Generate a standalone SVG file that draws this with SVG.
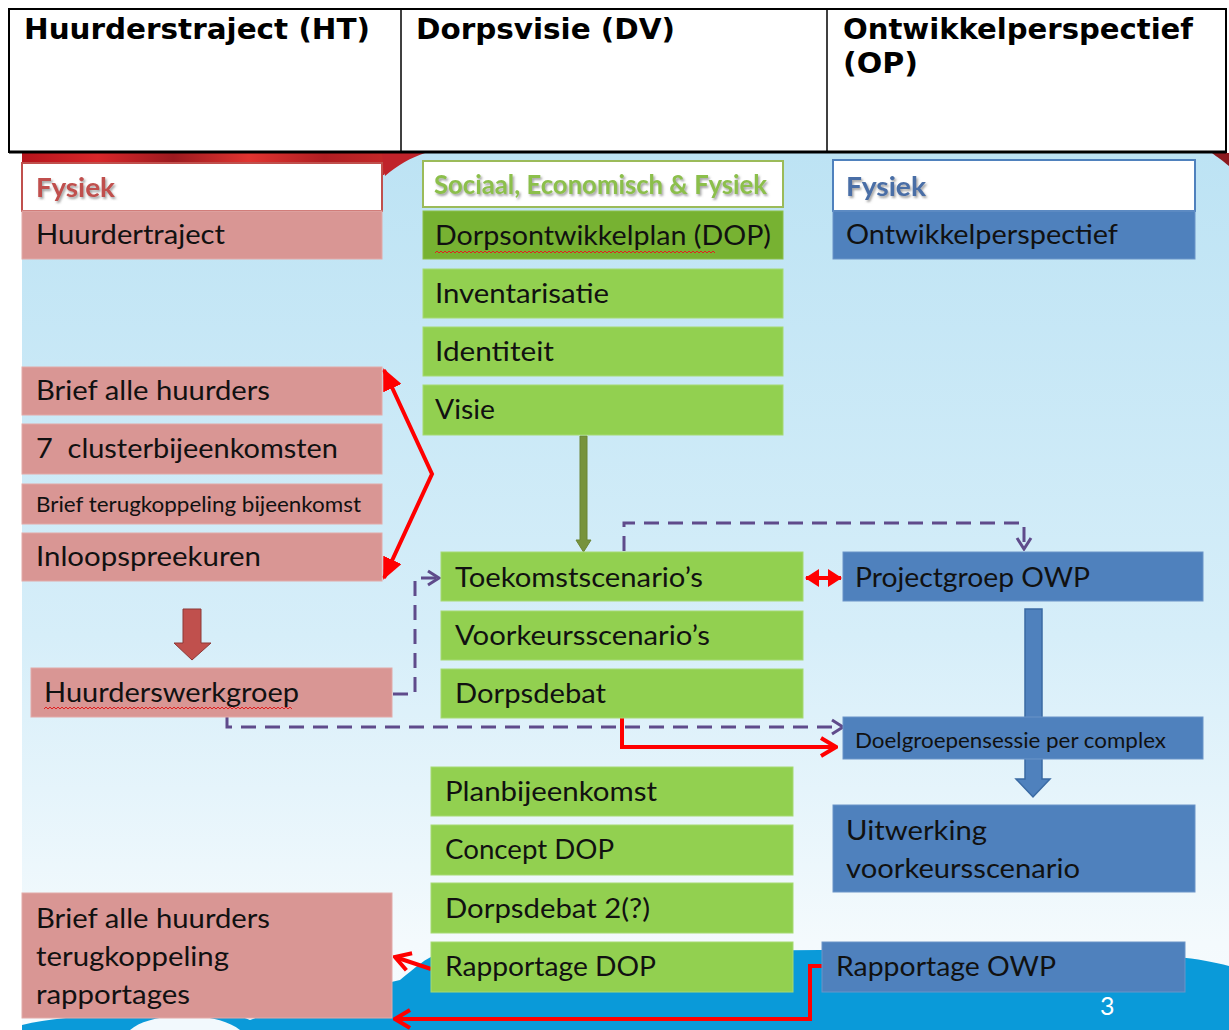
<svg xmlns="http://www.w3.org/2000/svg" width="1229" height="1030" viewBox="0 0 1229 1030">
<defs>
<linearGradient id="bg" x1="0" y1="0" x2="0" y2="1">
<stop offset="0" stop-color="#bde3f4"/>
<stop offset="0.55" stop-color="#d6eef9"/>
<stop offset="0.9" stop-color="#f4fafd"/>
<stop offset="1" stop-color="#f7fbfe"/>
</linearGradient>
<linearGradient id="tulip" x1="0" y1="0" x2="1" y2="0">
<stop offset="0" stop-color="#b5141c"/>
<stop offset="0.2" stop-color="#d8272a"/>
<stop offset="0.4" stop-color="#9c1a1f"/>
<stop offset="0.6" stop-color="#e03430"/>
<stop offset="0.8" stop-color="#b01e22"/>
<stop offset="1" stop-color="#c92a2a"/>
</linearGradient>
<filter id="sh" x="-10%" y="-20%" width="130%" height="160%">
<feDropShadow dx="1.5" dy="2" stdDeviation="1.2" flood-color="#555" flood-opacity="0.55"/>
</filter>
<marker id="pch" markerUnits="userSpaceOnUse" viewBox="0 0 16 20" markerWidth="16" markerHeight="20" refX="14" refY="10" orient="auto">
<path d="M3,3 L14,10 L3,17" fill="none" stroke="#5f4b8b" stroke-width="3"/>
</marker>
<marker id="rch" markerUnits="userSpaceOnUse" viewBox="0 0 20 24" markerWidth="20" markerHeight="24" refX="18" refY="12" orient="auto">
<path d="M3,3 L18,12 L3,21" fill="none" stroke="#ff0000" stroke-width="4"/>
</marker>
<marker id="rtri" markerUnits="userSpaceOnUse" viewBox="0 0 22 20" markerWidth="22" markerHeight="20" refX="20" refY="10" orient="auto-start-reverse">
<path d="M0,0 L22,10 L0,20 z" fill="#ff0000"/>
</marker>
<marker id="rsm" markerUnits="userSpaceOnUse" viewBox="0 0 14 18" markerWidth="14" markerHeight="18" refX="13" refY="9" orient="auto-start-reverse">
<path d="M0,0 L14,9 L0,18 z" fill="#ff0000"/>
</marker>
<style>
.hdr{font-family:"DejaVu Sans",Verdana,sans-serif;font-weight:bold;font-size:28px;fill:#000}
.t{font-family:Lato,"Open Sans",sans-serif;font-size:27px;fill:#111;white-space:pre}
.ts{font-family:Lato,"Open Sans",sans-serif;font-size:21px;fill:#111}
.pink{fill:#d99694;stroke:#e2aaa8;stroke-width:1}
.green{fill:#92d050;stroke:#a6da72;stroke-width:1}
.blue{fill:#4f81bd;stroke:#6b94c8;stroke-width:1}
.hb{font-family:Lato,"Open Sans",sans-serif;font-weight:bold;font-size:27px}
.pd{fill:none;stroke:#5f4b8b;stroke-width:3;stroke-dasharray:15 9}
.rl{fill:none;stroke:#ff0000;stroke-width:4}
.wavy{fill:none;stroke:#e02020;stroke-width:1}
</style>
</defs>

<rect x="0" y="0" width="1229" height="1030" fill="#ffffff"/>

<g id="background">
<rect x="22" y="153" width="1207" height="877" fill="url(#bg)"/>
<path d="M22,153 H400 C395,160 388,168 384,175 L22,165 Z" fill="url(#tulip)"/>
<path d="M382,153 H425 C410,158 398,165 385,176 Z" fill="#c0232a"/>
<path d="M1212,153 H1229 V166 C1222,160 1217,157 1212,153 Z" fill="#8c1a1f"/>
<path d="M22,1030 L22,1025 C60,1016 110,1014 140,1018 C180,1008 220,1008 250,1020 C300,1000 360,990 400,980 C415,968 425,958 440,953 L820,950 C900,948 1000,950 1100,952 C1160,954 1200,958 1229,966 L1229,1030 Z" fill="#0a9ad9"/>
<path d="M130,1030 C150,1012 215,1010 240,1030 Z" fill="#f2f9fd"/>
</g>

<g id="header-table">
<rect x="9" y="9" width="1217" height="143" fill="#ffffff" stroke="#000" stroke-width="2"/>
<line x1="401" y1="9" x2="401" y2="152" stroke="#000" stroke-width="1.5"/>
<line x1="827" y1="9" x2="827" y2="152" stroke="#000" stroke-width="1.5"/>
<line x1="9" y1="152" x2="1226" y2="152" stroke="#000" stroke-width="3"/>
<text class="hdr" x="24" y="39" textLength="346" lengthAdjust="spacingAndGlyphs">Huurderstraject (HT)</text>
<text class="hdr" x="416" y="39" textLength="259" lengthAdjust="spacingAndGlyphs">Dorpsvisie (DV)</text>
<text class="hdr" x="843" y="39" textLength="350" lengthAdjust="spacingAndGlyphs">Ontwikkelperspectief</text>
<text class="hdr" x="843" y="73" textLength="75" lengthAdjust="spacingAndGlyphs">(OP)</text>
</g>

<g id="connectors">
<polyline class="rl" points="384,370 432,474 384,578" marker-start="url(#rtri)" marker-end="url(#rtri)"/>
<path class="pd" d="M393,694 H415 V578 H439" marker-end="url(#pch)"/>
<path class="pd" d="M624,551 V523 H1024 V549" marker-end="url(#pch)"/>
<path class="pd" d="M227,717 V727 H843" marker-end="url(#pch)"/>
<path class="rl" d="M622,718 V747 H836" marker-end="url(#rch)"/>
<line class="rl" x1="806" y1="578" x2="841" y2="578" marker-start="url(#rsm)" marker-end="url(#rsm)"/>
<line class="rl" x1="431" y1="969" x2="395" y2="957" marker-end="url(#rch)"/>
<path class="rl" d="M822,966 H810 V1019 H395" marker-end="url(#rch)"/>
<polygon id="olive-arrow" points="580,436 587,436 587,540 591,540 583.5,552 576,540 580,540" fill="#77933c" stroke="#6b8535" stroke-width="1"/>
<polygon id="red-block-arrow" points="183,609 201,609 201,643 211,643 192,660 174,643 183,643" fill="#c0504d" stroke="#8c3836" stroke-width="1"/>
<polygon id="blue-block-arrow" points="1025,609 1042,609 1042,779 1050,779 1033,797 1016,779 1025,779" fill="#4f81bd" stroke="#3a6aa3" stroke-width="1.5"/>
</g>

<g id="ht-header">
<rect x="22" y="163" width="360" height="48" fill="#ffffff" stroke="#c0504d" stroke-width="2"/>
<text class="hb" x="36" y="197" fill="#c0504d" filter="url(#sh)" textLength="79" lengthAdjust="spacingAndGlyphs">Fysiek</text>
</g>
<g id="ht-huurdertraject">
<rect class="pink" x="22" y="211" width="360" height="48"/>
<text class="t" x="36" y="244" textLength="189" lengthAdjust="spacingAndGlyphs">Huurdertraject</text>
</g>
<g id="ht-brief">
<rect class="pink" x="22" y="367" width="360" height="48"/>
<text class="t" x="36" y="400" textLength="234" lengthAdjust="spacingAndGlyphs">Brief alle huurders</text>
</g>
<g id="ht-cluster">
<rect class="pink" x="22" y="424" width="360" height="50"/>
<text class="t" x="36" y="458" textLength="302" lengthAdjust="spacingAndGlyphs" xml:space="preserve">7  clusterbijeenkomsten</text>
</g>
<g id="ht-terugkoppeling">
<rect class="pink" x="22" y="484" width="360" height="40"/>
<text class="ts" x="36" y="512" textLength="325" lengthAdjust="spacingAndGlyphs">Brief terugkoppeling bijeenkomst</text>
</g>
<g id="ht-inloop">
<rect class="pink" x="22" y="533" width="360" height="48"/>
<text class="t" x="36" y="566" textLength="225" lengthAdjust="spacingAndGlyphs">Inloopspreekuren</text>
</g>
<g id="ht-werkgroep">
<rect class="pink" x="31" y="668" width="361" height="49"/>
<text class="t" x="44" y="702" textLength="255" lengthAdjust="spacingAndGlyphs">Huurderswerkgroep</text>
<path class="wavy" d="M44,709 l2,-2 l2,2 l2,-2 l2,2 l2,-2 l2,2 l2,-2 l2,2 l2,-2 l2,2 l2,-2 l2,2 l2,-2 l2,2 l2,-2 l2,2 l2,-2 l2,2 l2,-2 l2,2 l2,-2 l2,2 l2,-2 l2,2 l2,-2 l2,2 l2,-2 l2,2 l2,-2 l2,2 l2,-2 l2,2 l2,-2 l2,2 l2,-2 l2,2 l2,-2 l2,2 l2,-2 l2,2 l2,-2 l2,2 l2,-2 l2,2 l2,-2 l2,2 l2,-2 l2,2 l2,-2 l2,2 l2,-2 l2,2 l2,-2 l2,2 l2,-2 l2,2 l2,-2 l2,2 l2,-2 l2,2 l2,-2 l2,2 l2,-2 l2,2 l2,-2 l2,2 l2,-2 l2,2 l2,-2 l2,2 l2,-2 l2,2 l2,-2 l2,2 l2,-2 l2,2 l2,-2 l2,2 l2,-2 l2,2 l2,-2 l2,2 l2,-2 l2,2 l2,-2 l2,2 l2,-2 l2,2 l2,-2 l2,2 l2,-2 l2,2 l2,-2 l2,2 l2,-2 l2,2 l2,-2 l2,2 l2,-2 l2,2 l2,-2 l2,2 l2,-2 l2,2 l2,-2 l2,2 l2,-2 l2,2 l2,-2 l2,2 l2,-2 l2,2 l2,-2 l2,2 l2,-2 l2,2 l2,-2 l2,2 l2,-2 l2,2 l2,-2 l2,2 l2,-2 l2,2"/>
</g>
<g id="ht-rapportages">
<rect class="pink" x="22" y="893" width="370" height="125"/>
<text class="t" x="36" y="928" textLength="234" lengthAdjust="spacingAndGlyphs">Brief alle huurders</text>
<text class="t" x="36" y="966" textLength="193" lengthAdjust="spacingAndGlyphs">terugkoppeling</text>
<text class="t" x="36" y="1004" textLength="154" lengthAdjust="spacingAndGlyphs">rapportages</text>
</g>

<g id="dv-header">
<rect x="423" y="161" width="360" height="46" fill="#ffffff" stroke="#9bbb59" stroke-width="2"/>
<text class="hb" x="434" y="194" fill="#8cbf4c" filter="url(#sh)" font-size="24" textLength="333" lengthAdjust="spacingAndGlyphs">Sociaal, Economisch &amp; Fysiek</text>
</g>
<g id="dv-dop">
<rect x="423" y="211" width="360" height="48" fill="#77b232" stroke="#8cc04a" stroke-width="1"/>
<text class="t" x="435" y="245" textLength="336" lengthAdjust="spacingAndGlyphs">Dorpsontwikkelplan (DOP)</text>
<path class="wavy" d="M435,253 l2,-2 l2,2 l2,-2 l2,2 l2,-2 l2,2 l2,-2 l2,2 l2,-2 l2,2 l2,-2 l2,2 l2,-2 l2,2 l2,-2 l2,2 l2,-2 l2,2 l2,-2 l2,2 l2,-2 l2,2 l2,-2 l2,2 l2,-2 l2,2 l2,-2 l2,2 l2,-2 l2,2 l2,-2 l2,2 l2,-2 l2,2 l2,-2 l2,2 l2,-2 l2,2 l2,-2 l2,2 l2,-2 l2,2 l2,-2 l2,2 l2,-2 l2,2 l2,-2 l2,2 l2,-2 l2,2 l2,-2 l2,2 l2,-2 l2,2 l2,-2 l2,2 l2,-2 l2,2 l2,-2 l2,2 l2,-2 l2,2 l2,-2 l2,2 l2,-2 l2,2 l2,-2 l2,2 l2,-2 l2,2 l2,-2 l2,2 l2,-2 l2,2 l2,-2 l2,2 l2,-2 l2,2 l2,-2 l2,2 l2,-2 l2,2 l2,-2 l2,2 l2,-2 l2,2 l2,-2 l2,2 l2,-2 l2,2 l2,-2 l2,2 l2,-2 l2,2 l2,-2 l2,2 l2,-2 l2,2 l2,-2 l2,2 l2,-2 l2,2 l2,-2 l2,2 l2,-2 l2,2 l2,-2 l2,2 l2,-2 l2,2 l2,-2 l2,2 l2,-2 l2,2 l2,-2 l2,2 l2,-2 l2,2 l2,-2 l2,2 l2,-2 l2,2 l2,-2 l2,2 l2,-2 l2,2 l2,-2 l2,2 l2,-2 l2,2 l2,-2 l2,2 l2,-2 l2,2 l2,-2 l2,2 l2,-2 l2,2 l2,-2 l2,2"/>
</g>
<g id="dv-inventarisatie">
<rect class="green" x="423" y="269" width="360" height="49"/>
<text class="t" x="435" y="303" textLength="174" lengthAdjust="spacingAndGlyphs">Inventarisatie</text>
</g>
<g id="dv-identiteit">
<rect class="green" x="423" y="327" width="360" height="49"/>
<text class="t" x="435" y="361" textLength="119" lengthAdjust="spacingAndGlyphs">Identiteit</text>
</g>
<g id="dv-visie">
<rect class="green" x="423" y="385" width="360" height="50"/>
<text class="t" x="435" y="419" textLength="60" lengthAdjust="spacingAndGlyphs">Visie</text>
</g>
<g id="dv-toekomst">
<rect class="green" x="441" y="552" width="362" height="49"/>
<text class="t" x="455" y="587" textLength="248" lengthAdjust="spacingAndGlyphs">Toekomstscenario’s</text>
</g>
<g id="dv-voorkeur">
<rect class="green" x="441" y="611" width="362" height="49"/>
<text class="t" x="455" y="645" textLength="255" lengthAdjust="spacingAndGlyphs">Voorkeursscenario’s</text>
</g>
<g id="dv-dorpsdebat">
<rect class="green" x="441" y="669" width="362" height="49"/>
<text class="t" x="455" y="703" textLength="151" lengthAdjust="spacingAndGlyphs">Dorpsdebat</text>
</g>
<g id="dv-plan">
<rect class="green" x="431" y="767" width="362" height="49"/>
<text class="t" x="445" y="801" textLength="212" lengthAdjust="spacingAndGlyphs">Planbijeenkomst</text>
</g>
<g id="dv-concept">
<rect class="green" x="431" y="825" width="362" height="50"/>
<text class="t" x="445" y="859" textLength="169" lengthAdjust="spacingAndGlyphs">Concept DOP</text>
</g>
<g id="dv-dorpsdebat2">
<rect class="green" x="431" y="883" width="362" height="50"/>
<text class="t" x="445" y="918" textLength="205" lengthAdjust="spacingAndGlyphs">Dorpsdebat 2(?)</text>
</g>
<g id="dv-rapportage">
<rect class="green" x="431" y="942" width="362" height="50"/>
<text class="t" x="445" y="976" textLength="211" lengthAdjust="spacingAndGlyphs">Rapportage DOP</text>
</g>

<g id="op-header">
<rect x="833" y="160" width="362" height="51" fill="#ffffff" stroke="#4f81bd" stroke-width="2"/>
<text class="hb" x="846" y="196" fill="#4a6ea6" filter="url(#sh)" textLength="80" lengthAdjust="spacingAndGlyphs">Fysiek</text>
</g>
<g id="op-ontwikkel">
<rect class="blue" x="833" y="211" width="362" height="48"/>
<text class="t" x="846" y="244" textLength="272" lengthAdjust="spacingAndGlyphs">Ontwikkelperspectief</text>
</g>
<g id="op-projectgroep">
<rect class="blue" x="843" y="552" width="360" height="49"/>
<text class="t" x="855" y="587" textLength="235" lengthAdjust="spacingAndGlyphs">Projectgroep OWP</text>
</g>
<g id="op-doelgroep">
<rect class="blue" x="843" y="717" width="360" height="42"/>
<text class="ts" x="855" y="748" font-size="20" textLength="311" lengthAdjust="spacingAndGlyphs">Doelgroepensessie per complex</text>
</g>
<g id="op-uitwerking">
<rect class="blue" x="833" y="805" width="362" height="87"/>
<text class="t" x="846" y="840" textLength="141" lengthAdjust="spacingAndGlyphs">Uitwerking</text>
<text class="t" x="846" y="878" textLength="234" lengthAdjust="spacingAndGlyphs">voorkeursscenario</text>
</g>
<g id="op-rapportage">
<rect class="blue" x="822" y="942" width="363" height="50"/>
<text class="t" x="836" y="976" textLength="220" lengthAdjust="spacingAndGlyphs">Rapportage OWP</text>
</g>

<text x="1100" y="1015" font-family="Lato,'Open Sans',sans-serif" font-size="25" fill="#ffffff">3</text>
</svg>
